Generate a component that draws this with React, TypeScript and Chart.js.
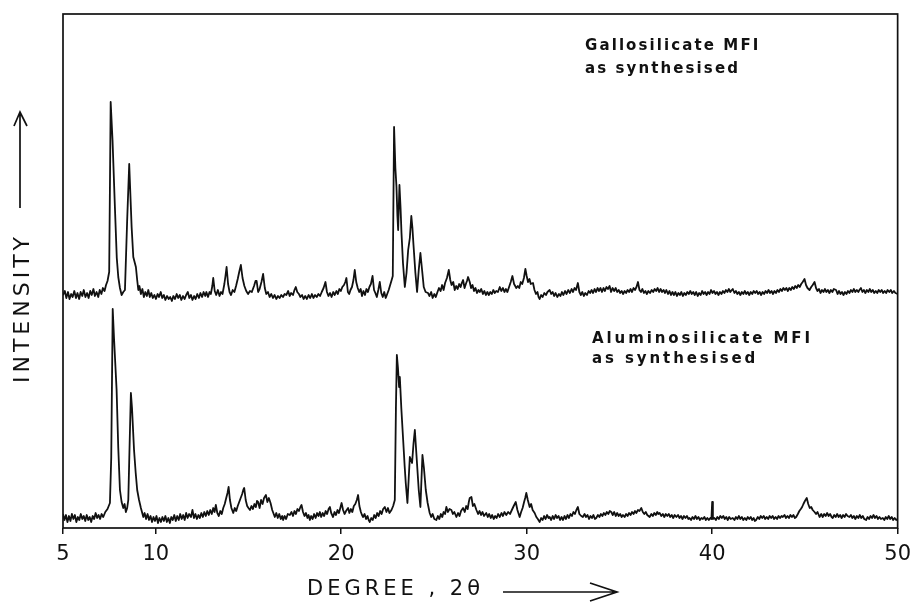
import React, { useEffect, useRef } from "react";
import { Chart, registerables } from "chart.js";

Chart.register(...registerables);

// 2θ (degrees) tick labels
const X_TICKS = [5, 10, 20, 30, 40, 50];
const X_MIN = 5;
const X_MAX = 50;
const Y_MAX = 514;

const X_TITLE = "DEGREE , 2θ";
const Y_TITLE = "INTENSITY";
const GALLO_LABEL = ["Gallosilicate MFI", "as synthesised"];
const ALUMINO_LABEL = ["Aluminosilicate MFI", "as synthesised"];

// Gallosilicate MFI trace: [2θ, intensity] (upper, offset pattern)
const GALLO: [number, number][] = [
  [5.00,233],[5.10,237],[5.18,230],[5.27,236],[5.35,229],[5.44,234],[5.52,231],[5.61,237],[5.70,230],[5.78,235],
  [5.87,229],[5.95,236],[6.04,232],[6.12,238],[6.21,231],[6.30,235],[6.38,230],[6.47,237],[6.55,233],[6.64,239],
  [6.72,232],[6.81,236],[6.90,231],[6.98,238],[7.07,234],[7.15,240],[7.24,237],[7.32,243],[7.40,247],[7.49,256],
  [7.57,426],[7.67,388],[7.80,320],[7.90,270],[7.98,251],[8.07,240],[8.16,233],[8.25,236],[8.34,238],[8.46,308],
  [8.57,364],[8.70,301],[8.79,271],[8.93,261],[9.00,248],[9.06,238],[9.12,242],[9.20,234],[9.28,239],[9.36,231],
  [9.44,236],[9.52,232],[9.60,238],[9.68,231],[9.76,235],[9.84,230],[9.93,233],[10.01,229],[10.10,234],[10.18,231],
  [10.27,236],[10.35,230],[10.44,233],[10.52,228],[10.61,232],[10.70,229],[10.78,231],[10.87,227],[10.95,232],[11.04,229],
  [11.13,234],[11.21,230],[11.30,233],[11.38,228],[11.47,232],[11.56,229],[11.64,233],[11.73,236],[11.81,230],[11.90,233],
  [11.98,228],[12.07,232],[12.15,229],[12.24,234],[12.33,230],[12.41,235],[12.50,231],[12.58,236],[12.67,232],[12.73,236],
  [12.82,231],[12.90,236],[12.97,234],[13.05,242],[13.10,250],[13.18,237],[13.26,233],[13.35,238],[13.44,232],[13.52,236],
  [13.60,234],[13.70,244],[13.76,252],[13.82,261],[13.90,244],[13.98,236],[14.06,233],[14.15,238],[14.24,236],[14.33,242],
  [14.42,249],[14.50,256],[14.59,263],[14.68,250],[14.78,242],[14.88,237],[14.98,234],[15.08,237],[15.18,236],[15.30,242],
  [15.38,247],[15.44,247],[15.52,236],[15.60,239],[15.70,246],[15.79,254],[15.88,240],[15.96,234],[16.05,236],[16.14,231],
  [16.23,234],[16.32,230],[16.41,233],[16.50,229],[16.59,232],[16.68,230],[16.77,233],[16.86,231],[16.95,234],[17.04,233],
  [17.14,237],[17.22,232],[17.30,235],[17.40,233],[17.48,238],[17.55,241],[17.63,236],[17.72,234],[17.80,231],[17.89,233],
  [17.97,229],[18.06,232],[18.15,229],[18.24,233],[18.33,230],[18.42,234],[18.50,230],[18.59,233],[18.68,231],[18.77,234],
  [18.86,232],[18.95,236],[19.05,240],[19.15,246],[19.23,236],[19.31,232],[19.40,235],[19.48,231],[19.57,236],[19.65,233],
  [19.74,237],[19.82,234],[19.90,239],[19.98,237],[20.06,241],[20.15,243],[20.22,246],[20.28,250],[20.36,236],[20.43,234],
  [20.50,238],[20.58,241],[20.66,248],[20.73,258],[20.81,246],[20.89,240],[20.97,236],[21.05,239],[21.12,232],[21.20,237],
  [21.28,233],[21.36,239],[21.44,236],[21.52,241],[21.60,244],[21.69,252],[21.77,238],[21.84,235],[21.92,231],[22.00,238],
  [22.08,246],[22.16,235],[22.24,231],[22.32,236],[22.40,230],[22.48,234],[22.56,238],[22.64,243],[22.72,248],[22.78,252],
  [22.85,401],[22.92,360],[22.98,341],[23.03,312],[23.07,298],[23.14,343],[23.20,320],[23.25,295],[23.33,265],[23.43,241],
  [23.52,255],[23.61,278],[23.70,290],[23.78,312],[23.84,300],[23.89,285],[24.00,255],[24.09,236],[24.18,258],[24.27,275],
  [24.36,258],[24.45,241],[24.55,236],[24.68,235],[24.76,232],[24.85,236],[24.93,230],[25.02,234],[25.10,231],[25.19,236],
  [25.27,240],[25.36,237],[25.44,243],[25.52,238],[25.60,245],[25.70,250],[25.80,258],[25.88,248],[25.95,243],[26.04,246],
  [26.12,238],[26.20,242],[26.28,239],[26.36,244],[26.44,241],[26.50,245],[26.57,248],[26.65,240],[26.72,244],[26.78,247],
  [26.84,251],[26.93,246],[27.00,240],[27.08,243],[27.16,237],[27.24,240],[27.32,235],[27.40,238],[27.47,236],[27.55,239],
  [27.64,234],[27.72,237],[27.80,233],[27.88,236],[27.96,233],[28.04,236],[28.12,234],[28.20,238],[28.28,235],[28.36,237],
  [28.45,236],[28.55,241],[28.63,237],[28.72,240],[28.80,236],[28.88,239],[28.96,236],[29.05,241],[29.14,246],[29.23,252],
  [29.32,244],[29.44,240],[29.52,242],[29.60,240],[29.68,246],[29.76,244],[29.85,250],[29.93,259],[30.00,252],[30.07,246],
  [30.15,249],[30.22,244],[30.34,245],[30.42,238],[30.50,234],[30.58,236],[30.64,231],[30.70,229],[30.78,233],[30.86,231],
  [30.95,235],[31.04,233],[31.12,236],[31.24,238],[31.32,234],[31.40,236],[31.48,232],[31.56,235],[31.65,231],[31.74,234],
  [31.82,232],[31.90,236],[31.98,233],[32.07,237],[32.15,234],[32.24,238],[32.33,235],[32.42,239],[32.50,236],[32.58,240],
  [32.66,238],[32.76,245],[32.84,236],[32.92,233],[33.00,236],[33.08,232],[33.16,235],[33.25,233],[33.34,237],[33.42,235],
  [33.50,238],[33.58,235],[33.66,239],[33.74,236],[33.82,240],[33.90,237],[33.98,240],[34.06,236],[34.14,240],[34.22,237],
  [34.30,241],[34.38,239],[34.47,242],[34.55,236],[34.63,240],[34.72,237],[34.80,240],[34.88,236],[34.96,238],[35.04,235],
  [35.12,237],[35.20,234],[35.28,237],[35.36,235],[35.44,238],[35.52,236],[35.60,239],[35.68,236],[35.76,240],[35.84,238],
  [35.92,241],[36.00,246],[36.08,238],[36.16,236],[36.24,239],[36.32,235],[36.40,237],[36.48,234],[36.56,237],[36.65,235],
  [36.74,238],[36.82,236],[36.90,239],[36.98,237],[37.06,240],[37.14,236],[37.22,239],[37.30,236],[37.38,238],[37.46,235],
  [37.53,238],[37.62,234],[37.70,237],[37.78,233],[37.86,236],[37.94,233],[38.02,236],[38.10,232],[38.18,235],[38.26,233],
  [38.34,236],[38.42,232],[38.50,235],[38.58,233],[38.66,236],[38.74,234],[38.82,237],[38.90,234],[38.98,236],[39.06,233],
  [39.14,236],[39.22,232],[39.30,235],[39.38,233],[39.46,237],[39.54,234],[39.62,236],[39.70,233],[39.78,236],[39.86,234],
  [39.94,238],[40.02,235],[40.10,237],[40.18,234],[40.26,236],[40.34,233],[40.42,236],[40.50,234],[40.58,237],[40.66,235],
  [40.74,238],[40.82,236],[40.90,239],[40.98,236],[41.06,238],[41.11,239],[41.20,235],[41.28,237],[41.36,234],[41.44,236],
  [41.52,233],[41.60,236],[41.68,234],[41.76,237],[41.84,234],[41.92,236],[42.00,233],[42.08,236],[42.16,234],[42.24,237],
  [42.32,235],[42.40,237],[42.48,234],[42.56,236],[42.64,233],[42.72,236],[42.80,234],[42.88,237],[42.96,235],[43.04,238],
  [43.12,235],[43.20,237],[43.28,234],[43.36,237],[43.44,235],[43.52,238],[43.60,236],[43.68,239],[43.76,237],[43.84,240],
  [43.92,238],[44.00,240],[44.08,237],[44.16,240],[44.24,238],[44.32,241],[44.40,239],[44.48,242],[44.56,240],[44.64,243],
  [44.72,241],[44.80,244],[44.88,246],[44.98,249],[45.06,243],[45.14,240],[45.25,238],[45.34,241],[45.42,243],[45.52,246],
  [45.60,240],[45.68,237],[45.76,239],[45.84,235],[45.92,238],[46.00,236],[46.08,239],[46.16,236],[46.24,238],[46.32,235],
  [46.40,238],[46.48,236],[46.56,239],[46.68,238],[46.76,234],[46.84,237],[46.92,234],[47.00,236],[47.08,233],[47.16,236],
  [47.24,234],[47.32,237],[47.40,235],[47.48,238],[47.56,236],[47.64,239],[47.72,236],[47.80,238],[47.88,236],[47.94,238],
  [48.02,240],[48.10,236],[48.18,238],[48.26,235],[48.34,238],[48.42,236],[48.50,239],[48.58,236],[48.66,238],[48.74,235],
  [48.82,237],[48.90,235],[48.98,238],[49.06,236],[49.14,238],[49.22,235],[49.30,237],[49.38,235],[49.46,238],[49.55,236],
  [49.63,238],[49.71,235],[49.80,237],[49.88,235],[50.00,234]
];

// Aluminosilicate MFI trace: [2θ, intensity] (lower pattern)
const ALUMINO: [number, number][] = [
  [5.00,14],[5.08,8],[5.16,13],[5.24,6],[5.32,12],[5.40,7],[5.48,14],[5.56,9],[5.64,13],[5.72,6],
  [5.80,11],[5.88,8],[5.96,14],[6.04,9],[6.12,12],[6.20,7],[6.28,13],[6.36,8],[6.44,11],[6.52,6],
  [6.60,12],[6.68,9],[6.76,15],[6.84,10],[6.92,13],[7.00,9],[7.08,14],[7.17,11],[7.28,16],[7.40,19],
  [7.53,25],[7.60,70],[7.68,219],[7.75,190],[7.89,138],[7.98,80],[8.07,38],[8.16,26],[8.25,20],[8.32,24],
  [8.39,16],[8.46,20],[8.52,28],[8.60,90],[8.66,135],[8.72,120],[8.83,78],[8.92,55],[9.00,38],[9.10,28],
  [9.20,20],[9.33,11],[9.40,15],[9.48,9],[9.56,14],[9.64,8],[9.72,12],[9.80,6],[9.88,11],[9.96,7],
  [10.04,12],[10.12,5],[10.20,10],[10.28,6],[10.36,11],[10.44,7],[10.52,12],[10.60,6],[10.68,10],[10.76,5],
  [10.84,11],[10.92,8],[11.00,13],[11.08,7],[11.16,12],[11.24,8],[11.32,14],[11.40,9],[11.48,13],[11.56,8],
  [11.64,15],[11.72,10],[11.80,14],[11.90,11],[11.98,18],[12.06,10],[12.14,14],[12.22,9],[12.30,13],[12.38,10],
  [12.46,15],[12.54,11],[12.62,16],[12.70,12],[12.78,17],[12.86,13],[12.94,18],[13.02,14],[13.10,20],[13.17,16],
  [13.24,23],[13.32,15],[13.40,12],[13.48,17],[13.56,14],[13.64,20],[13.72,24],[13.80,30],[13.87,35],[13.93,41],
  [14.00,28],[14.08,20],[14.18,15],[14.26,20],[14.34,17],[14.42,22],[14.50,26],[14.58,30],[14.66,34],[14.72,38],
  [14.77,40],[14.85,28],[14.93,22],[15.00,20],[15.08,18],[15.16,22],[15.24,19],[15.32,24],[15.40,21],[15.46,27],
  [15.52,26],[15.60,20],[15.68,28],[15.76,24],[15.84,30],[15.94,33],[16.02,26],[16.10,30],[16.19,25],[16.28,18],
  [16.36,14],[16.42,11],[16.50,15],[16.58,10],[16.66,14],[16.74,9],[16.82,12],[16.87,8],[16.95,12],[17.03,9],
  [17.12,14],[17.23,13],[17.32,16],[17.40,12],[17.48,17],[17.56,14],[17.64,19],[17.72,17],[17.80,21],[17.86,23],
  [17.94,16],[18.02,12],[18.10,15],[18.18,10],[18.24,13],[18.31,8],[18.38,12],[18.46,9],[18.54,14],[18.62,10],
  [18.70,15],[18.78,12],[18.85,16],[18.92,11],[19.00,15],[19.08,12],[19.16,17],[19.24,14],[19.32,19],[19.39,21],
  [19.46,15],[19.56,11],[19.64,16],[19.72,13],[19.80,18],[19.88,15],[19.95,20],[20.02,25],[20.10,18],[20.18,14],
  [20.26,17],[20.37,20],[20.44,15],[20.52,19],[20.60,16],[20.68,22],[20.76,24],[20.84,28],[20.91,33],[20.98,22],
  [21.06,16],[21.12,13],[21.18,11],[21.26,14],[21.34,9],[21.42,12],[21.48,8],[21.54,6],[21.62,10],[21.70,8],
  [21.78,13],[21.86,10],[21.94,15],[22.02,12],[22.10,17],[22.18,14],[22.26,19],[22.35,21],[22.44,16],[22.52,20],
  [22.60,15],[22.71,18],[22.80,22],[22.89,28],[22.95,120],[23.00,173],[23.06,160],[23.12,141],[23.16,151],[23.24,120],
  [23.34,88],[23.42,62],[23.48,45],[23.57,25],[23.64,50],[23.70,71],[23.76,68],[23.82,65],[23.90,85],[23.97,98],
  [24.05,75],[24.12,55],[24.18,38],[24.27,21],[24.33,50],[24.38,73],[24.46,60],[24.56,38],[24.66,25],[24.77,15],
  [24.85,11],[24.93,14],[25.02,9],[25.13,8],[25.21,12],[25.29,9],[25.37,14],[25.45,11],[25.52,16],[25.60,14],
  [25.67,21],[25.75,16],[25.84,19],[25.94,18],[26.02,14],[26.10,16],[26.21,11],[26.30,15],[26.38,12],[26.46,17],
  [26.57,20],[26.66,16],[26.74,22],[26.82,19],[26.88,26],[26.93,30],[27.02,31],[27.10,22],[27.18,24],[27.29,18],
  [27.38,14],[27.46,17],[27.54,13],[27.62,16],[27.70,12],[27.82,15],[27.90,11],[27.98,14],[28.06,10],[28.14,13],
  [28.22,9],[28.30,12],[28.38,10],[28.46,14],[28.55,11],[28.64,15],[28.72,12],[28.80,16],[28.90,13],[29.00,16],
  [29.10,14],[29.20,18],[29.30,22],[29.41,26],[29.50,18],[29.62,11],[29.70,16],[29.78,20],[29.86,26],[29.92,30],
  [29.98,35],[30.06,28],[30.16,21],[30.24,24],[30.32,18],[30.43,15],[30.52,11],[30.60,9],[30.70,6],[30.78,10],
  [30.86,8],[30.94,12],[31.02,9],[31.10,13],[31.18,10],[31.24,11],[31.32,8],[31.40,12],[31.48,9],[31.56,13],
  [31.64,10],[31.72,12],[31.80,8],[31.88,11],[31.96,8],[32.04,12],[32.12,9],[32.20,13],[32.28,10],[32.36,14],
  [32.44,12],[32.52,16],[32.60,14],[32.68,18],[32.76,21],[32.84,14],[32.94,12],[33.03,11],[33.12,14],[33.20,11],
  [33.28,13],[33.36,9],[33.44,12],[33.52,10],[33.60,13],[33.68,9],[33.75,10],[33.84,13],[33.92,11],[34.00,14],
  [34.08,12],[34.16,15],[34.24,13],[34.32,16],[34.40,14],[34.48,17],[34.56,16],[34.64,13],[34.72,16],[34.80,12],
  [34.88,15],[34.96,12],[35.04,14],[35.12,11],[35.19,13],[35.28,11],[35.36,14],[35.44,12],[35.52,15],[35.60,13],
  [35.68,16],[35.76,14],[35.84,17],[35.91,15],[36.00,18],[36.08,17],[36.18,20],[36.26,16],[36.34,14],[36.42,16],
  [36.50,13],[36.63,11],[36.72,14],[36.80,12],[36.88,15],[36.96,13],[37.04,16],[37.10,14],[37.17,15],[37.26,12],
  [37.34,14],[37.42,11],[37.50,14],[37.58,12],[37.66,14],[37.74,11],[37.82,13],[37.90,10],[37.98,13],[38.07,11],
  [38.16,13],[38.24,10],[38.32,12],[38.40,9],[38.48,12],[38.56,10],[38.64,12],[38.72,9],[38.78,10],[38.86,8],
  [38.94,11],[39.02,9],[39.10,12],[39.18,9],[39.26,11],[39.34,8],[39.42,10],[39.50,9],[39.58,11],[39.66,8],
  [39.74,10],[39.82,8],[39.90,10],[39.96,9],[40.00,26],[40.04,9],[40.12,10],[40.20,8],[40.28,11],[40.36,9],
  [40.44,12],[40.52,10],[40.60,12],[40.68,9],[40.76,11],[40.84,8],[40.92,11],[41.00,9],[41.11,10],[41.20,8],
  [41.28,11],[41.36,9],[41.44,12],[41.52,9],[41.60,11],[41.68,8],[41.76,10],[41.84,8],[41.92,11],[42.00,9],
  [42.08,11],[42.16,8],[42.24,10],[42.30,7],[42.37,8],[42.46,11],[42.54,9],[42.62,12],[42.70,10],[42.78,12],
  [42.86,9],[42.94,11],[43.02,9],[43.10,12],[43.18,10],[43.26,12],[43.34,9],[43.42,11],[43.50,9],[43.58,12],
  [43.66,10],[43.74,12],[43.81,11],[43.90,13],[43.98,10],[44.06,12],[44.14,10],[44.22,13],[44.30,11],[44.38,13],
  [44.46,10],[44.53,11],[44.62,14],[44.70,17],[44.78,19],[44.85,21],[44.92,24],[45.00,27],[45.10,30],[45.18,24],
  [45.26,20],[45.34,21],[45.42,18],[45.52,16],[45.60,14],[45.68,16],[45.79,11],[45.88,14],[45.96,11],[46.04,14],
  [46.12,12],[46.20,15],[46.28,12],[46.36,14],[46.44,11],[46.50,10],[46.58,13],[46.66,11],[46.74,14],[46.82,11],
  [46.90,13],[46.98,10],[47.06,13],[47.14,11],[47.22,14],[47.30,12],[47.40,11],[47.48,13],[47.56,10],[47.64,12],
  [47.72,9],[47.80,12],[47.88,10],[47.96,13],[48.04,10],[48.12,12],[48.20,9],[48.30,8],[48.38,11],[48.46,9],
  [48.54,12],[48.62,10],[48.70,13],[48.78,10],[48.86,12],[48.94,9],[49.02,11],[49.10,9],[49.20,10],[49.28,8],
  [49.36,11],[49.44,9],[49.52,12],[49.60,9],[49.68,11],[49.76,8],[49.84,10],[49.92,8],[50.00,9]
];

const FONT = '"DejaVu Sans", "Liberation Sans", sans-serif';

const decorPlugin = {
  id: "decor",
  afterDraw(chart: any) {
    const { ctx, chartArea } = chart;
    const { left, top, right, bottom } = chartArea;
    ctx.save();
    ctx.strokeStyle = "#111";
    ctx.fillStyle = "#111";
    ctx.lineWidth = 1.7;
    ctx.strokeRect(left, top, right - left, bottom - top);

    // Y axis title + arrow
    ctx.save();
    ctx.translate(23, 308);
    ctx.rotate(-Math.PI / 2);
    ctx.font = `22px ${FONT}`;
    (ctx as any).letterSpacing = "4px";
    ctx.textAlign = "center";
    ctx.textBaseline = "middle";
    ctx.fillText(Y_TITLE, 0, 0);
    ctx.restore();
    ctx.beginPath();
    ctx.moveTo(20, 208);
    ctx.lineTo(20, 112);
    ctx.moveTo(14, 126);
    ctx.lineTo(20, 112);
    ctx.lineTo(27, 126);
    ctx.stroke();

    // X axis title + arrow
    ctx.save();
    ctx.font = `21px ${FONT}`;
    (ctx as any).letterSpacing = "4px";
    ctx.textAlign = "left";
    ctx.textBaseline = "alphabetic";
    ctx.fillText(X_TITLE, 307, 595);
    ctx.restore();
    ctx.beginPath();
    ctx.moveTo(503, 592);
    ctx.lineTo(617, 592);
    ctx.moveTo(590, 583);
    ctx.lineTo(617, 592);
    ctx.lineTo(590, 601);
    ctx.stroke();

    // Pattern labels
    ctx.font = `bold 15px ${FONT}`;
    (ctx as any).letterSpacing = "2.1px";
    ctx.textAlign = "left";
    ctx.textBaseline = "alphabetic";
    ctx.fillText(GALLO_LABEL[0], 585, 50);
    ctx.fillText(GALLO_LABEL[1], 585, 73);
    (ctx as any).letterSpacing = "2.9px";
    ctx.fillText(ALUMINO_LABEL[0], 592, 343);
    ctx.fillText(ALUMINO_LABEL[1], 592, 363);
    ctx.restore();
  },
};

export default function App() {
  const ref = useRef<HTMLCanvasElement | null>(null);
  useEffect(() => {
    if (!ref.current) return;
    const chart = new Chart(ref.current, {
      type: "line",
      data: {
        datasets: [
          {
            label: GALLO_LABEL.join(" "),
            data: GALLO.map(([x, y]) => ({ x, y })),
            borderColor: "#111",
            borderWidth: 1.8,
            pointRadius: 0,
            tension: 0,
            borderJoinStyle: "round",
          },
          {
            label: ALUMINO_LABEL.join(" "),
            data: ALUMINO.map(([x, y]) => ({ x, y })),
            borderColor: "#111",
            borderWidth: 1.8,
            pointRadius: 0,
            tension: 0,
            borderJoinStyle: "round",
          },
        ],
      },
      options: {
        animation: false,
        responsive: false,
        devicePixelRatio: 1,
        layout: { padding: { left: 63, top: 14, right: 21, bottom: 0 } },
        plugins: { legend: { display: false }, tooltip: { enabled: false } },
        scales: {
          x: {
            type: "linear",
            min: X_MIN,
            max: X_MAX,
            afterBuildTicks: (scale: any) => {
              scale.ticks = X_TICKS.map((v) => ({ value: v }));
            },
            afterFit: (scale: any) => {
              scale.height = 75;
            },
            border: { display: false },
            grid: {
              display: true,
              drawOnChartArea: false,
              drawTicks: true,
              tickLength: 6,
              color: "#111",
              lineWidth: 1.5,
            },
            ticks: {
              color: "#111",
              font: { family: FONT, size: 21 },
              padding: 8,
              maxRotation: 0,
              autoSkip: false,
            },
          },
          y: {
            display: false,
            min: 0,
            max: Y_MAX,
          },
        },
      },
      plugins: [decorPlugin],
    });
    return () => chart.destroy();
  }, []);
  return (
    <div style={{ position: "fixed", left: 0, top: 0, width: 919, height: 603, background: "#fff" }}>
      <canvas ref={ref} width={919} height={603} style={{ display: "block", width: 919, height: 603 }} />
    </div>
  );
}
